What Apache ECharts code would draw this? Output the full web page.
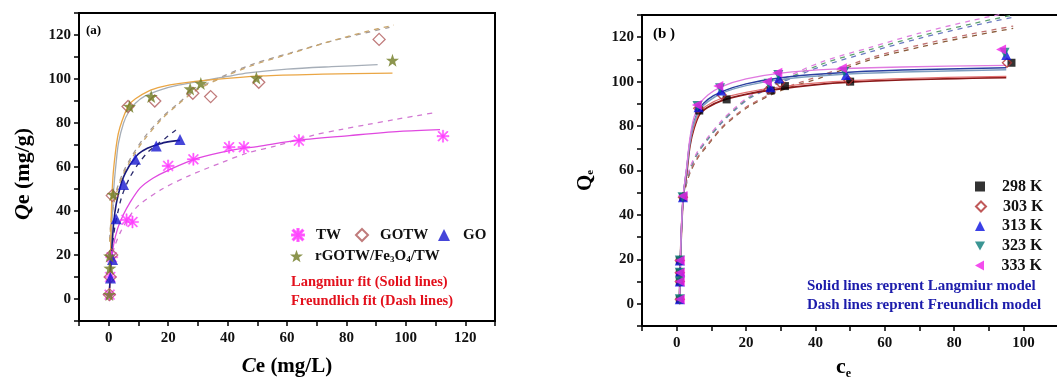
<!DOCTYPE html>
<html><head><meta charset="utf-8">
<script src="https://cdn.jsdelivr.net/npm/echarts@6/dist/echarts.min.js"></script>
<style>html,body{margin:0;padding:0;background:#fff}#c{width:1057px;height:380px}</style>
</head><body><div id="c"></div>
<script>
// ---------- Panel (a) data ----------
const tickLabelsA = ['0','20','40','60','80','100','120'];
const twPts   = [[0.3,2],[0.5,10],[1.0,19],[6,36],[8,35],[20,60.5],[28.5,63.5],[40.5,69],[45.5,69],[64,72],[112.5,74]];
const gotwPts = [[0.2,2],[0.5,10],[1.0,20],[1.2,47],[6.5,87.5],[15.5,90],[28.3,93.5],[34.3,92],[50.5,98.5],[91,118]];
const goPts   = [[0.6,9.5],[1.3,18],[2.5,36.5],[5,52],[9,63.5],[16,69.5],[24,72.5]];
const rgoPts  = [[0.2,2],[0.4,14],[0.3,19.5],[1.5,47.5],[7,87.5],[14.3,92],[27.4,95.5],[31,98],[49.7,100.5],[95.5,108.5]];
// Langmuir (solid) fits
const twLang   = [[0.2,4],[0.5,10],[1,18],[1.7,25],[3,32],[5,38.5],[7,43.5],[10.6,50.5],[15,55],[20,58.5],[30,64],[42,67.8],[50,69.3],[64,72.2],[81,74.3],[98,76.2],[111.5,77]];
const gotwLang = [[0.3,10],[0.6,20],[1,32],[1.7,50],[2.5,62],[3.3,71],[5,80],[6.7,85],[9,89],[12.3,92.3],[18,95.3],[23.4,97.2],[32,99.3],[40,101.2],[47,102.8],[60,104.5],[75,105.6],[90.5,106.5]];
const goLang   = [[0.3,5],[0.6,13],[1,22],[1.7,35],[2.5,43],[3.9,51],[5,55.5],[6.7,60],[8.5,63.5],[10,66],[13,68.5],[15.6,69.8],[19,71.2],[24,72.1]];
const rgoLang  = [[0.3,2],[0.6,18],[0.9,40],[1.4,55],[2.2,66],[3.2,75],[4.5,81],[6.7,88],[9,91],[13.4,94.5],[18,96.5],[23.4,97.9],[35,99.7],[51.4,101.4],[72,102.2],[95.5,102.7]];
// Freundlich (dashed) fits
const twFr   = [[0.3,12],[0.6,16],[1,19],[2,24],[4,30.5],[7,37.5],[10,42.5],[18,50],[27,56],[38,62],[47,66.5],[56,69.5],[69,74.5],[78,77],[87,79.3],[96,81.5],[104,83.4],[110,84.8]];
const gotwFr = [[0.3,27],[0.7,34.5],[1.7,44],[3,51],[5,58],[7.8,65],[12,73.5],[17.9,82.5],[23,88.5],[29,95],[38,101],[49,107],[61,111.8],[73,116.5],[86.5,121],[94.5,123.5]];
const goFr   = [[0.3,12],[0.6,17],[1,22],[2.2,34],[3,39],[4.5,47],[7,55],[10,61.5],[13,66.5],[16,70],[19,73],[22.3,76.5],[24,78]];
const rgoFr  = [[0.3,26],[0.7,33.5],[1.7,43],[3,50],[5,57],[7.8,64],[12,72.5],[17.9,81.8],[23,88],[29,94.5],[38,100.5],[49,106.5],[61,111.5],[73,116.5],[86.5,121.5],[96,124.5]];

// ---------- Panel (b) data ----------
const tickLabelsB = ['0','20','40','60','80','100','120'];
const p298 = [[0.9,2],[0.9,10],[0.9,14],[0.9,19.5],[1.9,48],[6.5,87],[14.4,92],[27.1,96],[31.2,98],[50,100],[96.5,108.5]];
const p303 = [[0.9,2],[0.9,10],[0.9,14],[0.9,19.5],[1.8,48],[6.2,88],[13,94],[26.5,96.5],[29.8,99.5],[49.5,100.5],[95.2,108.5]];
const p313 = [[0.9,2],[0.9,10],[1.0,14.5],[0.9,19.5],[1.8,48],[6.3,88.5],[12.8,96],[27,97.5],[29.5,101.5],[48.8,103],[95,112]];
const p323 = [[0.9,2],[0.9,10],[0.9,14],[0.9,19.5],[1.7,48],[6,89],[12.5,97],[26.5,99],[29.3,103],[48.3,104.5],[94.5,113]];
const p333 = [[0.9,2],[0.9,10],[0.9,14],[0.9,19.5],[1.7,48.5],[5.8,89.5],[12,98],[26,100],[29,104],[47.6,106],[93.5,114.5]];
const langX = [0.8,1,1.3,1.9,2.9,3.8,5,6.7,9,13,20,30,45,65,95];
const l298 = [2,15,30,48,59,71,79,85.5,88.5,91.5,94.3,96.8,99.3,100.8,101.8];
const l303 = [2,15,30,48,60,72,80,86.5,89.5,92.5,95.2,97.7,100,101.4,102.4];
const l313 = [2,15,31,48.5,61,73,82,88,92,95.5,99,101.8,103.8,105.2,106.2];
const l323 = [2,15,31,48.5,61,72.5,81.5,87.5,91,94.8,98.2,101,103,104.3,105.3];
const l333 = [2,16,32,49,62,74.5,84,90,94,97.8,101.2,103.8,105.6,106.6,107.3];
const frX  = [1.9,3,4,6,9,13,17,21,30,42,56,70,85,97];
const f298 = [48,55,59.5,65.5,71.5,79,84.5,89,96,102,110,115.5,120.5,124];
const f303 = [48.5,55.5,60,66,72,79.5,85,89.5,96.5,103,110.8,116.5,121.5,125];
const f313 = [49,56,61,67.5,74,81.5,87.5,92.5,99.5,107,113.5,119.5,125,129];
const f323 = [49,56.5,61.5,68,74.5,82,88,93,100,108,114.5,120.5,126,130];
const f333 = [49.5,57,62,68.5,75,82.5,88.5,93.5,100.8,109,115.5,121.8,127.5,131.5];

const FONT = 'Liberation Serif';
const zip = (xs, ys) => xs.map((x, i) => [x, ys[i]]);

const asterisk = 'path://M4.5,0L5.5,0L5.5,10L4.5,10Z M0,4.5L10,4.5L10,5.5L0,5.5Z M0.7,1.4L1.4,0.7L9.3,8.6L8.6,9.3Z M8.6,0.7L9.3,1.4L1.4,9.3L0.7,8.6Z';
const star = 'path://M50,0L61.76,33.82L97.55,34.55L69.02,56.18L79.39,90.45L50,70L20.61,90.45L30.98,56.18L2.45,34.55L38.24,33.82Z';
const triDown = 'path://M0,0L10,0L5,9Z';
const triLeft = 'path://M9,0L9,10L0,5Z';

function valAxis(grid, labels, opts) {
  return Object.assign({
    gridIndex: grid, type: 'value', min: -10, max: 130, interval: 10,
    axisLine: { show: true, onZero: false, lineStyle: { color: '#000', width: 2 } },
    axisTick: { show: true, length: 5, lineStyle: { color: '#000', width: 1.5 } },
    axisLabel: { formatter: v => labels.includes(String(v)) ? String(v) : '',
      fontFamily: FONT, fontWeight: 'bold', fontSize: 15, color: '#111', margin: 8 },
    splitLine: { show: false }
  }, opts);
}

function scatter(name, data, xi, symbol, size, color, extra) {
  return Object.assign({ name, type: 'scatter', xAxisIndex: xi, yAxisIndex: xi, data, symbol, symbolSize: size,
    itemStyle: { color }, z: 5 }, extra || {});
}
function line(data, xi, color, dashed, width) {
  return { type: 'line', xAxisIndex: xi, yAxisIndex: xi, data, smooth: 0.3, showSymbol: false, symbol: 'none',
    lineStyle: { color, width: width || 1.3, type: dashed ? [5, 5] : 'solid' }, z: 3, silent: true };
}
function legendItem(name, left, top, fs, pad, iw, extraText) {
  return { data: [name], left, top, padding: 0, itemWidth: iw, itemHeight: iw,
    textStyle: Object.assign({ fontFamily: FONT, fontWeight: 'bold', fontSize: fs, color: '#111', lineHeight: 18, padding: [0, 0, 0, pad] }, extraText || {}) };
}

const rgoName = 'rGOTW/Fe3O4/TW';

const option = {
  animation: false,
  backgroundColor: '#fff',
  grid: [
    { left: 79, top: 13, width: 416, height: 308, show: true, borderColor: '#000', borderWidth: 2, backgroundColor: '#fff', outerBoundsMode: 'none', containLabel: false },
    { left: 642, top: 15, width: 451, height: 311, show: true, borderColor: '#000', borderWidth: 2, backgroundColor: '#fff', outerBoundsMode: 'none', containLabel: false }
  ],
  xAxis: [
    valAxis(0, tickLabelsA, { name: '{i|C}{b|e (mg/L)}', nameLocation: 'middle', nameGap: 35,
      axisLabel: { formatter: v => tickLabelsA.includes(String(v)) ? String(v) : '', fontFamily: FONT, fontWeight: 'bold', fontSize: 15, color: '#111', margin: 10 },
      nameTextStyle: { rich: { i: { fontFamily: FONT, fontStyle: 'italic', fontWeight: 'bold', fontSize: 21, color: '#000' },
                               b: { fontFamily: FONT, fontWeight: 'bold', fontSize: 21, color: '#000' } } } }),
    valAxis(1, tickLabelsB, { max: 120, name: '{c|c}{s|e}', nameLocation: 'middle', nameGap: 28,
      axisLabel: { formatter: v => tickLabelsB.includes(String(v)) ? String(v) : '', fontFamily: FONT, fontWeight: 'bold', fontSize: 15, color: '#111', margin: 10 },
      nameTextStyle: { padding: [0, 48, 0, 0], rich: { c: { fontFamily: FONT, fontWeight: 'bold', fontSize: 22, color: '#000' },
                               s: { fontFamily: FONT, fontWeight: 'bold', fontSize: 12, color: '#000', padding: [14, 0, 0, 0] } } } })
  ],
  yAxis: [
    valAxis(0, tickLabelsA, { name: '{i|Q}{b|e (mg/g)}', nameLocation: 'middle', nameGap: 45,
      nameTextStyle: { padding: [0, 14, 0, 0], rich: { i: { fontFamily: FONT, fontStyle: 'italic', fontWeight: 'bold', fontSize: 22, color: '#000' },
                               b: { fontFamily: FONT, fontWeight: 'bold', fontSize: 22, color: '#000' } } } }),
    valAxis(1, tickLabelsB, { name: '{q|Q}{s|e}', nameLocation: 'middle', nameGap: 46,
      nameTextStyle: { padding: [0, 20, 0, 0], rich: { q: { fontFamily: FONT, fontWeight: 'bold', fontSize: 21, color: '#000' },
                               s: { fontFamily: FONT, fontWeight: 'bold', fontSize: 11, color: '#000', padding: [10, 0, 0, 0] } } } })
  ],
  legend: [
    legendItem('TW', 291, 226, 15, 7, 12),
    legendItem('GOTW', 355, 226, 15, 7, 12),
    legendItem('GO', 438, 226, 15, 8, 12),
    legendItem(rgoName, 290, 247, 15, 7, 13, { rich: { a: { fontFamily: FONT, fontWeight: 'bold', fontSize: 15, color: '#111' },
                                                         s: { fontFamily: FONT, fontWeight: 'bold', fontSize: 9, color: '#111', padding: [8, 0, 0, 0] } } }),
    legendItem('298 K', 975, 177.5, 16, 12, 10),
    legendItem('303 K', 975, 197.5, 16, 12, 10),
    legendItem('313 K', 975, 217, 16, 12, 10),
    legendItem('323 K', 975, 237, 16, 12, 10),
    legendItem('333 K', 975, 256.5, 16, 12, 10)
  ].map(l => l.data[0] === rgoName ? Object.assign(l, { formatter: () => '{a|rGOTW/Fe}{s|3}{a|O}{s|4}{a|/TW}' }) : l),
  graphic: [
    { type: 'text', left: 86, top: 24, style: { text: '(a)', font: 'bold 13px "Liberation Serif"', fill: '#000' } },
    { type: 'text', left: 653, top: 27, style: { text: '(b )', font: 'bold 15px "Liberation Serif"', fill: '#000' } },
    { type: 'text', left: 291, top: 275, style: { text: 'Langmiur fit (Solid lines)', font: 'bold 14.5px "Liberation Serif"', fill: '#e3101c' } },
    { type: 'text', left: 291, top: 294, style: { text: 'Freundlich fit (Dash lines)', font: 'bold 14.5px "Liberation Serif"', fill: '#e3101c' } },
    { type: 'text', left: 807, top: 279, style: { text: 'Solid lines reprent Langmiur model', font: 'bold 15px "Liberation Serif"', fill: '#1c1cab' } },
    { type: 'text', left: 807, top: 298, style: { text: 'Dash lines reprent Freundlich model', font: 'bold 15px "Liberation Serif"', fill: '#1c1cab' } }
  ],
  series: [
    // panel a lines
    line(twFr, 0, '#d277d2', true), line(gotwFr, 0, '#a39a9a', true), line(rgoFr, 0, '#c9a66c', true), line(goFr, 0, '#2b2b6e', true),
    line(twLang, 0, '#e048e0'), line(gotwLang, 0, '#a6aeb8'), line(rgoLang, 0, '#eaa645'), line(goLang, 0, '#1a1a7a', false, 1.6),
    // panel a markers
    scatter('TW', twPts, 0, asterisk, 12, '#ff3cff', { itemStyle: { color: '#ff3cff', borderColor: '#ff3cff', borderWidth: 0.6 } }),
    scatter('GOTW', gotwPts, 0, 'diamond', 12, '#b05a5a', { itemStyle: { color: 'rgba(255,255,255,0)', borderColor: '#b05a5a', borderWidth: 1.3 } }),
    scatter('GO', goPts, 0, 'triangle', 11, '#1818d0'),
    scatter(rgoName, rgoPts, 0, star, 13, '#6f7a22'),
    // panel b lines
    line(zip(frX, f298), 1, '#8a5a3a', true), line(zip(frX, f303), 1, '#c07070', true), line(zip(frX, f313), 1, '#6a7ac0', true),
    line(zip(frX, f323), 1, '#5fa070', true), line(zip(frX, f333), 1, '#e080e0', true),
    line(zip(langX, l298), 1, '#8b1a1a', false, 1.8), line(zip(langX, l303), 1, '#e07070', false, 1.2), line(zip(langX, l313), 1, '#2a3fa0', false, 1.5),
    line(zip(langX, l323), 1, '#7f9fc0', false, 1.5), line(zip(langX, l333), 1, '#e07ae0', false, 1.3),
    // panel b markers
    scatter('298 K', p298, 1, 'rect', 8, '#000'),
    scatter('303 K', p303, 1, 'diamond', 9, '#b03030', { itemStyle: { color: 'rgba(255,255,255,0)', borderColor: '#b03030', borderWidth: 1.3 } }),
    scatter('313 K', p313, 1, 'triangle', 10, '#0a10e0'),
    scatter('323 K', p323, 1, triDown, 10, '#0a7a78'),
    scatter('333 K', p333, 1, triLeft, 10, '#f020e8')
  ]
};

const chart = echarts.init(document.getElementById('c'), null, { renderer: 'canvas' });
chart.setOption(option);
</script>
</body></html>
